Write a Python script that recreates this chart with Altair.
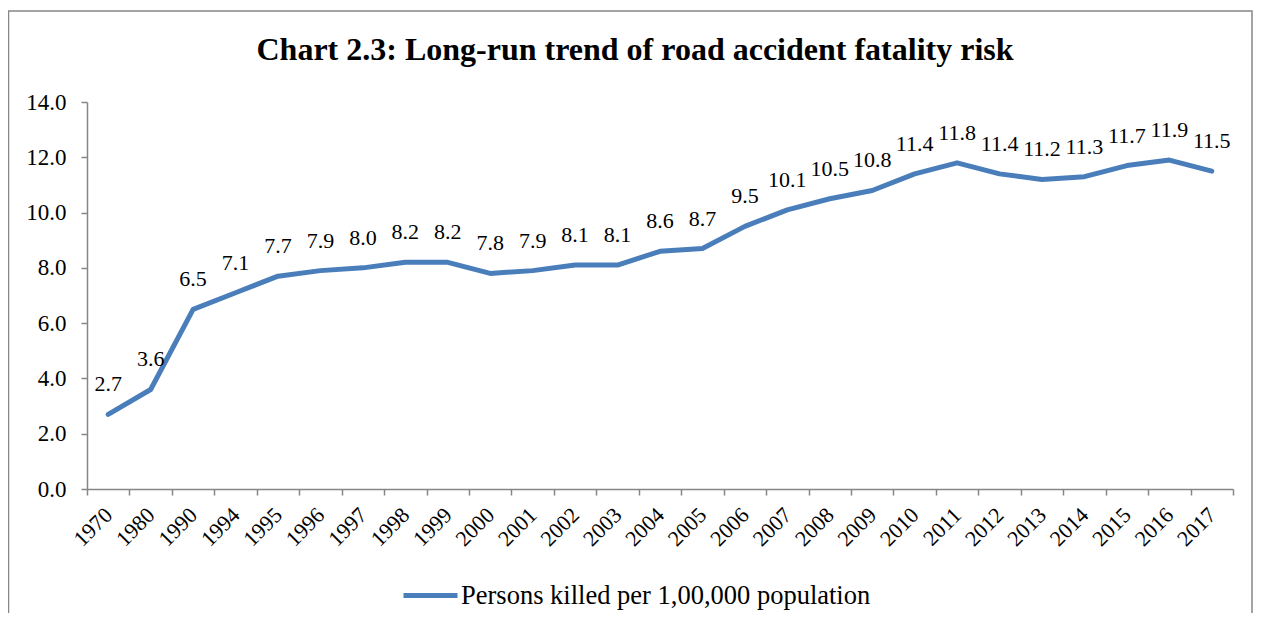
import altair as alt
import pandas as pd

years = ["1970", "1980", "1990", "1994", "1995", "1996", "1997", "1998", "1999",
         "2000", "2001", "2002", "2003", "2004", "2005", "2006", "2007", "2008",
         "2009", "2010", "2011", "2012", "2013", "2014", "2015", "2016", "2017"]
values = [2.7, 3.6, 6.5, 7.1, 7.7, 7.9, 8.0, 8.2, 8.2,
          7.8, 7.9, 8.1, 8.1, 8.6, 8.7, 9.5, 10.1, 10.5,
          10.8, 11.4, 11.8, 11.4, 11.2, 11.3, 11.7, 11.9, 11.5]
series_name = "Persons killed per 1,00,000 population"
title_text = "Chart 2.3: Long-run trend of road accident fatality risk"
y_ticks = [0, 2, 4, 6, 8, 10, 12, 14]

df = pd.DataFrame({"year": years, "value": values, "series": series_name})

FONT = "'Liberation Serif', 'Times New Roman', Times, serif"
BLUE = "#4a7ebb"
GRAY = "#868686"

x_enc = alt.X("year:O", sort=years, bandPosition=0.5,
              scale=alt.Scale(type="band", paddingInner=0, paddingOuter=0),
              axis=alt.Axis(title=None, labelAngle=315, labelAlign="right",
                            labelBaseline="middle", labelPadding=16,
                            labelFontSize=22, tickBand="extent", tickSize=6))
y_enc = alt.Y("value:Q", scale=alt.Scale(domain=[0, 14]),
              axis=alt.Axis(title=None, values=y_ticks, format=".1f",
                            labelFontSize=23, tickSize=6, labelPadding=15, grid=False))

line = alt.Chart(df).mark_line(strokeWidth=5, strokeCap="round", strokeJoin="round").encode(
    x=x_enc, y=y_enc,
    color=alt.Color("series:N", scale=alt.Scale(range=[BLUE]),
                    legend=alt.Legend(title=None, orient="none", legendX=314, legendY=464,
                                      symbolType="stroke", symbolSize=2916,
                                      symbolStrokeWidth=5, labelFont=FONT,
                                      labelFontSize=26.5, labelColor="black",
                                      labelLimit=0, labelOffset=1))
)

labels = alt.Chart(df).mark_text(dy=-30, fontSize=22, font=FONT, color="black",
                                 baseline="middle").encode(
    x=alt.X("year:O", sort=years, bandPosition=0.5),
    y="value:Q",
    text=alt.Text("value:Q", format=".1f"),
)

frame_df = pd.DataFrame({"a": [0]})
frame = alt.Chart(frame_df).mark_rect(fill=None, stroke=GRAY, strokeWidth=1.5).encode(
    x=alt.value(-78.5), x2=alt.value(1165), y=alt.value(-91), y2=alt.value(600)
)

title_df = pd.DataFrame({"t": [title_text]})
title = alt.Chart(title_df).mark_text(font=FONT, fontSize=32, fontWeight="bold",
                                      color="black", align="center",
                                      baseline="alphabetic").encode(
    text="t:N", x=alt.value(548), y=alt.value(-42)
)

chart = alt.layer(frame, line, labels, title).properties(
    width=1146, height=387,
    autosize=alt.AutoSizeParams(type="none"),
    padding={"left": 79, "top": 94, "right": 20, "bottom": 124},
).configure_axis(
    labelFont=FONT, labelColor="black",
    domainColor=GRAY, tickColor=GRAY, domainWidth=1.5, tickWidth=1.5,
).configure_view(stroke=None)

chart.save("out.html", embed_options={"renderer": "svg", "actions": False})
